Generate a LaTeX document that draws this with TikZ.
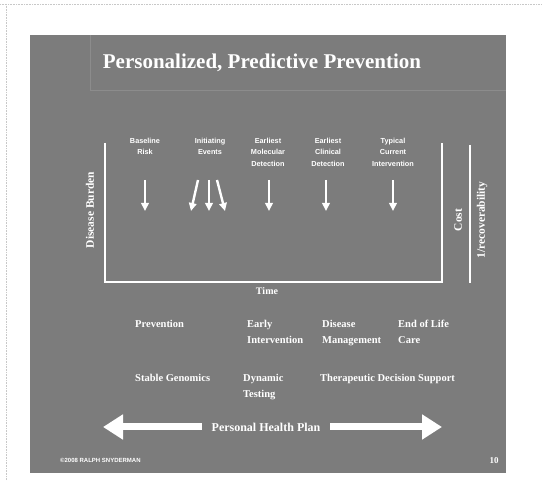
\documentclass[tikz,border=0pt]{standalone}
\usepackage{fontspec}
\setmainfont{Liberation Serif}
\newfontfamily\labfont{Liberation Sans}
\usetikzlibrary{arrows.meta}
\definecolor{slide}{RGB}{124,124,124}
\definecolor{rule}{RGB}{140,140,140}
\definecolor{frame}{RGB}{200,200,200}
\tikzset{
  every node/.style={text=white, inner sep=0pt},
  axis/.style={draw=white, line width=1.6pt},
  stagelabel/.style={font=\labfont\bfseries\fontsize{7.3}{11.5}\selectfont, align=center, anchor=north},
  dropper/.style={draw=white, line width=2.4pt, -{Triangle[width=7.5pt,length=8pt]}},
  phase/.style={font=\bfseries\fontsize{10.5}{16}\selectfont, align=left, anchor=north west},
  sidelabel/.style={font=\bfseries\fontsize{11.5}{14}\selectfont, rotate=90},
  planarrow/.style={draw=white, line width=7pt, -{Triangle[width=24pt,length=20pt]}}
}
\begin{document}
\begin{tikzpicture}[x=1pt,y=-1pt]
\useasboundingbox (0,0) rectangle (542,481);
\fill[white] (0,0) rectangle (542,481);
% page edge
\draw[frame, densely dotted, line width=0.6pt] (0,4) -- (542,4);
\draw[frame, densely dotted, line width=0.6pt] (6,4) -- (6,481);
% slide background
\fill[slide] (30,35) rectangle (506,473);
\draw[rule, line width=0.5pt] (90,90) -- (506,90);
\draw[rule, line width=0.5pt] (90,35) -- (90,90);
% title
\node[font=\bfseries\fontsize{21}{24}\selectfont] (title) at (262,63) {Personalized, Predictive Prevention};

% chart frame
\coordinate (tl) at (105,143);
\coordinate (bl) at (105,282);
\coordinate (br) at (442,282);
\coordinate (tr) at (442,143);
\draw[axis] (tl) -- (bl) -- (br) -- (tr);
\coordinate (rt) at (470,145);
\coordinate (rb) at (470,283);
\draw[axis] (rt) -- (rb);

\node[font=\bfseries\fontsize{10}{12}\selectfont] (time) at (267,291) {Time};
\node[sidelabel] (burden) at (90,210) {Disease Burden};
\node[sidelabel] (cost) at (458,220) {Cost};
\node[sidelabel] (recov) at (482,220) {1/recoverability};

% stage labels
\node[stagelabel] (baseline) at (145,138) {Baseline\\Risk};
\node[stagelabel] (initiating) at (210,138) {Initiating\\Events};
\node[stagelabel] (molecular) at (268,138) {Earliest\\Molecular\\Detection};
\node[stagelabel] (clinical) at (328,138) {Earliest\\Clinical\\Detection};
\node[stagelabel] (typical) at (393,138) {Typical\\Current\\Intervention};

% stage arrows
\coordinate (a1s) at (145,180); \coordinate (a1e) at (145,211);
\coordinate (a2s) at (198,180); \coordinate (a2e) at (191,211);
\coordinate (a3s) at (209,180); \coordinate (a3e) at (209,211);
\coordinate (a4s) at (217,180); \coordinate (a4e) at (225,211);
\coordinate (a5s) at (269,180); \coordinate (a5e) at (269,211);
\coordinate (a6s) at (326,180); \coordinate (a6e) at (326,211);
\coordinate (a7s) at (393,180); \coordinate (a7e) at (393,211);
\foreach \i in {1,...,7} \draw[dropper] (a\i s) -- (a\i e);

% care phases
\node[phase] (prev) at (135,320) {Prevention};
\node[phase] (early) at (247,320) {Early\\Intervention};
\node[phase] (mgmt) at (322,320) {Disease\\Management};
\node[phase] (eol) at (398,320) {End of Life\\Care};
\node[phase] (stable) at (135,374) {Stable Genomics};
\node[phase] (dynamic) at (243,374) {Dynamic\\Testing};
\node[phase] (support) at (320,374) {Therapeutic Decision Support};

% personal health plan
\node[font=\bfseries\fontsize{12}{14}\selectfont, minimum width=128pt] (plan) at (266,427) {Personal Health Plan};
\coordinate (lefttip) at (103,427);
\coordinate (righttip) at (442,427);
\draw[planarrow] (plan.west) -- (lefttip);
\draw[planarrow] (plan.east) -- (righttip);

% footer
\node[font=\labfont\bfseries\fontsize{6}{7}\selectfont, anchor=west] (copy) at (60,460) {©2008 RALPH SNYDERMAN};
\node[font=\bfseries\fontsize{9}{10}\selectfont] (page) at (494,461) {10};
\end{tikzpicture}
\end{document}
